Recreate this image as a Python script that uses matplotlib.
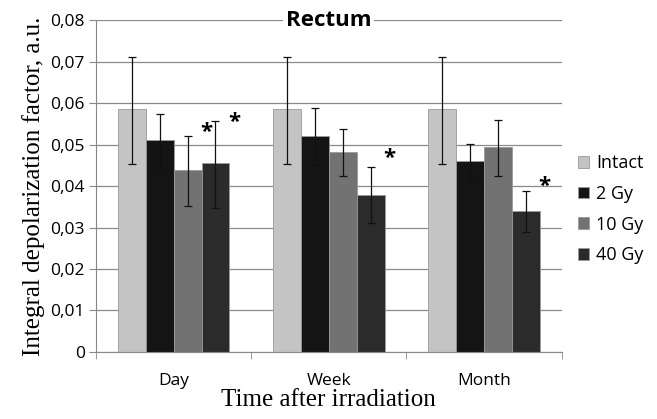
import numpy as np
import matplotlib
matplotlib.use("Agg")
import matplotlib.pyplot as plt

# Data
categories = ["Day", "Week", "Month"]
series = ["Intact", "2 Gy", "10 Gy", "40 Gy"]
means = {
    "Intact": [0.0585, 0.0585, 0.0585],
    "2 Gy":   [0.0511, 0.0521, 0.0460],
    "10 Gy":  [0.0438, 0.0481, 0.0494],
    "40 Gy":  [0.0455, 0.0379, 0.0340],
}
err_low = {
    "Intact": [0.0452, 0.0452, 0.0452],
    "2 Gy":   [0.0443, 0.0450, 0.0410],
    "10 Gy":  [0.0353, 0.0425, 0.0425],
    "40 Gy":  [0.0347, 0.0310, 0.0290],
}
err_high = {
    "Intact": [0.0710, 0.0710, 0.0710],
    "2 Gy":   [0.0574, 0.0588, 0.0502],
    "10 Gy":  [0.0521, 0.0537, 0.0560],
    "40 Gy":  [0.0557, 0.0447, 0.0387],
}
# significance marks: (category index, series, y)
stars = [(0, "10 Gy", 0.0528), (0, "40 Gy", 0.0553), (1, "40 Gy", 0.0467), (2, "40 Gy", 0.0400)]
colors = {"Intact": "#c4c4c4", "2 Gy": "#141414", "10 Gy": "#727272", "40 Gy": "#2b2b2b"}

sans = ["Open Sans", "DejaVu Sans"]
serif = ["Liberation Serif", "DejaVu Serif"]

fig = plt.figure(figsize=(6.57, 4.19), dpi=100)
ax = fig.add_axes([0.146, 0.160, 0.709, 0.792])

x = np.arange(len(categories))
w = 0.18
offsets = (np.arange(len(series)) - 1.5) * w

for i, s in enumerate(series):
    m = np.array(means[s])
    lo = m - np.array(err_low[s])
    hi = np.array(err_high[s]) - m
    ax.bar(x + offsets[i], m, w, color=colors[s], edgecolor="#9a9a9a",
           linewidth=0.6, label=s, zorder=2)
    ax.errorbar(x + offsets[i], m, yerr=[lo, hi], fmt="none", ecolor="#111111",
                elinewidth=0.9, capsize=3, capthick=0.9, zorder=3)

for ci, s, yv in stars:
    ax.text(x[ci] + offsets[series.index(s)] + 0.12, yv, "*", ha="center", va="center",
            fontsize=16, fontweight="bold", family=sans, zorder=4)

ax.set_xlim(-0.5, 2.5)
ax.set_ylim(0, 0.08)
ax.set_yticks(np.arange(0, 0.081, 0.01))
ax.set_yticklabels(["0"] + ["0,0%d" % k for k in range(1, 9)])
ax.set_xticks(x)
ax.set_xticklabels(categories)
ax.set_xticks([-0.5, 0.5, 1.5, 2.5], minor=True)
ax.tick_params(axis="x", which="major", length=0, pad=15)
ax.tick_params(axis="x", which="minor", length=5, color="#888888")
ax.tick_params(axis="y", length=5, color="#888888", pad=3)
for lab in ax.get_xticklabels() + ax.get_yticklabels():
    lab.set_family(sans)
    lab.set_fontsize(12.5)

ax.yaxis.grid(True, color="#8a8a8a", linewidth=0.9, zorder=0)
ax.set_axisbelow(True)
for sp in ["top", "right"]:
    ax.spines[sp].set_visible(False)
ax.spines["left"].set_color("#888888")
ax.spines["bottom"].set_color("#888888")

ax.set_ylabel("Integral depolarization factor, a.u.", family=serif, fontsize=18, labelpad=4)
ax.set_xlabel("Time after irradiation", family=serif, fontsize=18, labelpad=0)

ax.text(0.5, 1.0, "Rectum", transform=ax.transAxes, ha="center", va="center",
        fontsize=16, fontweight="bold", family=sans,
        bbox=dict(facecolor="white", edgecolor="none", pad=2), zorder=5)

leg = ax.legend(loc="center left", bbox_to_anchor=(1.0, 0.43), frameon=False,
                handlelength=0.6, handleheight=0.6, handletextpad=0.4,
                labelspacing=0.7, prop={"family": sans, "size": 13})

fig.savefig("out.png", dpi=100)
